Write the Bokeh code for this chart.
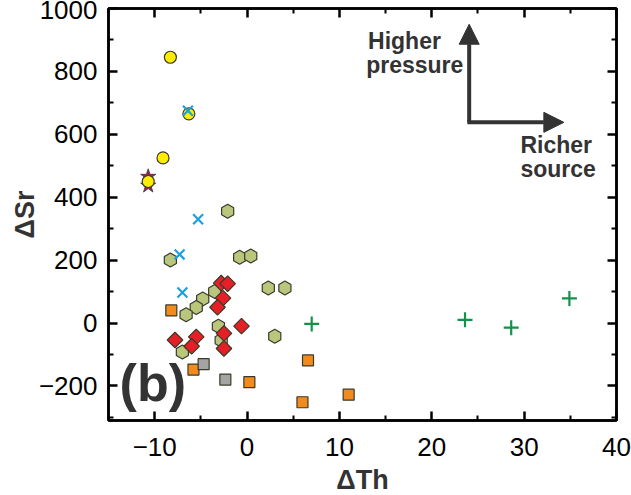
import numpy as np
from bokeh.plotting import figure
from bokeh.models import (Range1d, LinearAxis, Label, Arrow, NormalHead, FixedTicker,
                          CustomJSTickFormatter)
from bokeh.embed import file_html
from bokeh.resources import INLINE

# ---- data ----
circle_x = [-8.3, -6.3, -9.1, -10.7]
circle_y = [845, 665, 525, 450]

star_x = [-10.7, -10.7]
star_y = [465, 437]

xmark_x = [-6.4, -5.3, -7.3, -7.0]
xmark_y = [675, 330, 218, 97]

hex_x = [-2.1, -8.3, -0.8, 0.4, 2.3, 4.1, -3.5, -4.8, -5.5, -6.6, -3.1, -2.8, -7.0, 3.0]
hex_y = [355, 200, 209, 213, 111, 111, 100, 76, 49, 26, -10, -55, -92, -42]

diam_x = [-2.8, -2.1, -2.6, -3.2, -0.6, -2.5, -2.5, -7.8, -5.5, -6.0]
diam_y = [127, 125, 79, 50, -10, -33, -81, -54, -44, -74]

orange_x = [-8.2, -5.8, 0.25, 6.6, 6.0, 11.0]
orange_y = [40, -148, -188, -119, -252, -228]

gray_x = [-4.7, -2.35]
gray_y = [-131, -180]

cross_x = [7.0, 23.6, 28.6, 34.9]
cross_y = [-3, 10, -15, 78]

x_ticks = [-10, 0, 10, 20, 30, 40]
x_minor = [-15, -5, 5, 15, 25, 35]
y_ticks = [-200, 0, 200, 400, 600, 800, 1000]
y_minor = [-300, -100, 100, 300, 500, 700, 900]

FONT = "Liberation Sans"
DARK = "#333333"

p = figure(frame_width=508, frame_height=412, output_backend="svg", toolbar_location=None,
           x_range=Range1d(-15, 40), y_range=Range1d(-310, 1000),
           x_axis_location=None, y_axis_location=None,
           min_border_left=108, min_border_right=15, min_border_top=8, min_border_bottom=72,
           outline_line_color="black", outline_line_width=2.5)
p.grid.visible = False
p.background_fill_color = "white"
p.border_fill_color = "white"

bottom = LinearAxis(ticker=FixedTicker(ticks=x_ticks, minor_ticks=x_minor), axis_label="ΔTh")
left = LinearAxis(ticker=FixedTicker(ticks=y_ticks, minor_ticks=y_minor), axis_label="ΔSr")
blank = CustomJSTickFormatter(code="return ''")
top = LinearAxis(ticker=FixedTicker(ticks=x_ticks, minor_ticks=x_minor), formatter=blank)
right = LinearAxis(ticker=FixedTicker(ticks=y_ticks, minor_ticks=y_minor), formatter=blank)
p.add_layout(bottom, "below")
p.add_layout(left, "left")
p.add_layout(top, "above")
p.add_layout(right, "right")

for ax in [bottom, left, top, right]:
    ax.axis_line_width = 2.5
    ax.axis_line_color = "black"
    ax.major_tick_in = 9
    ax.major_tick_out = 0
    ax.minor_tick_in = 5
    ax.minor_tick_out = 0
    ax.major_tick_line_width = 2.5
    ax.minor_tick_line_width = 2
    ax.major_tick_line_color = "black"
    ax.minor_tick_line_color = "black"
    ax.major_label_text_font = FONT
    ax.major_label_text_font_size = "26px"
    ax.major_label_text_color = "black"
    ax.axis_label_text_font = FONT
    ax.axis_label_text_font_size = "27px"
    ax.axis_label_text_font_style = "bold"
    ax.axis_label_text_color = DARK

for ax in [top, right]:
    ax.major_label_standoff = 0

bottom.major_label_standoff = 17
bottom.axis_label_standoff = 6
left.major_label_standoff = 11
left.axis_label_standoff = -4

OUT = "#3a3a2a"

p.scatter(hex_x, hex_y, marker="hex", size=14, angle=np.pi / 2,
          fill_color="#b9c67b", line_color=OUT, line_width=1.2)
p.scatter(diam_x, diam_y, marker="square", size=11, angle=np.pi / 4,
          fill_color="#e41f26", line_color=OUT, line_width=1.2)
p.scatter(orange_x, orange_y, marker="square", size=11,
          fill_color="#f28a1c", line_color=OUT, line_width=1.2)
p.scatter(gray_x, gray_y, marker="square", size=11,
          fill_color="#a4a4a4", line_color=OUT, line_width=1.2)
p.scatter(star_x, star_y, marker="star", size=16,
          fill_color="#b0145e", line_color=OUT, line_width=0.8)
p.scatter(circle_x, circle_y, marker="circle", size=12,
          fill_color="#ffec00", line_color=OUT, line_width=1.2)
p.scatter(xmark_x, xmark_y, marker="x", size=14,
          line_color="#1ea0e0", line_width=2.2)
p.scatter(cross_x, cross_y, marker="cross", size=15,
          line_color="#13934a", line_width=2.2)

# annotation arrows
head_v = NormalHead(size=20, fill_color=DARK, line_color=DARK, line_width=1)
head_h = NormalHead(size=20, fill_color=DARK, line_color=DARK, line_width=1)
p.add_layout(Arrow(end=head_v, x_start=24.05, y_start=638, x_end=24.05, y_end=950,
                   line_color=DARK, line_width=4))
p.add_layout(Arrow(end=head_h, x_start=23.85, y_start=638, x_end=34.3, y_end=638,
                   line_color=DARK, line_width=4))

for txt, x, y in [("Higher", 13.1, 897), ("pressure", 12.9, 820),
                  ("Richer", 29.6, 567), ("source", 29.6, 490)]:
    p.add_layout(Label(x=x, y=y, text=txt, text_font=FONT, text_font_size="23px",
                       text_font_style="bold", text_color=DARK,
                       text_align="left", text_baseline="middle"))

p.add_layout(Label(x=-13.8, y=-192, text="(b)", text_font=FONT, text_font_size="52px",
                   text_font_style="bold", text_color=DARK,
                   text_align="left", text_baseline="middle"))

open("out.html", "w").write(file_html(p, INLINE))
